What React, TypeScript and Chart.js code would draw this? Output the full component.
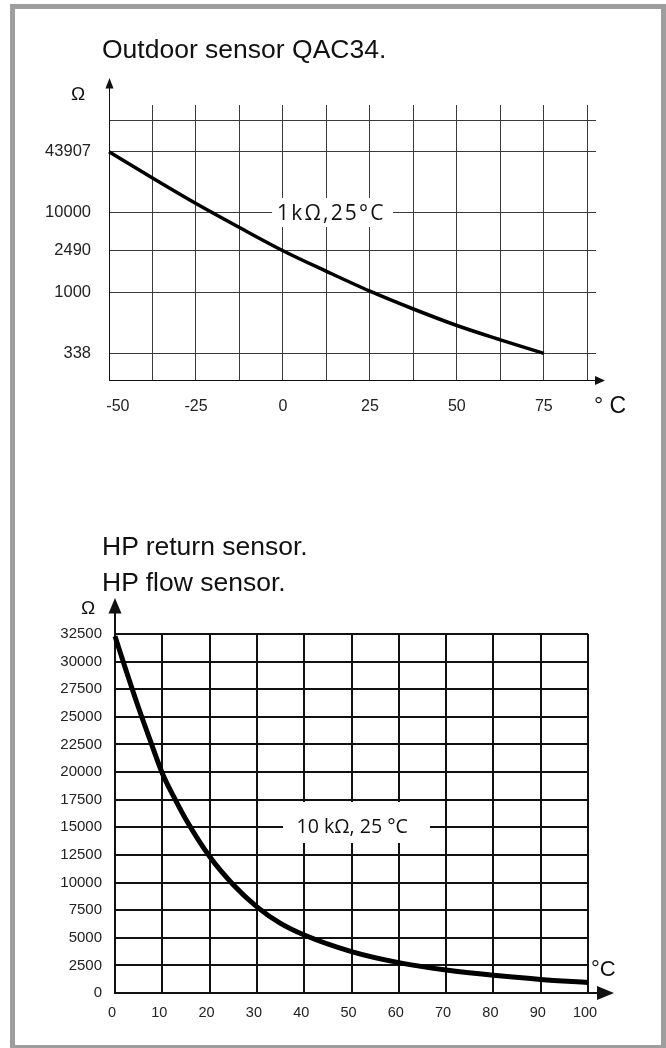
import React, { useEffect, useRef } from "react";
import { Chart, registerables } from "chart.js";

Chart.register(...registerables);

// ---------- Outdoor sensor QAC34 ----------
const outdoorTemps = [-50, -37.5, -25, -12.5, 0, 12.5, 25, 37.5, 50, 62.5, 75];
const outdoorOhms = [43907, 23210, 12500, 5820, 2490, 1588, 1030, 745, 555, 430, 338];
const outdoorTickOhms = [338, 1000, 2490, 10000, 43907];
const outdoorTickLabels = ["338", "1000", "2490", "10000", "43907"];
const outdoorXLabelValues = [-50, -25, 0, 25, 50, 75];
const outdoorXLabels = ["-50", "-25", "0", "25", "50", "75"];
const outdoorGridTemps = [-50, -37.5, -25, -12.5, 0, 12.5, 25, 37.5, 50, 62.5, 75, 87.5];

// ---------- HP return / flow sensor ----------
const hpTemps = [0, 2.5, 5, 7.5, 10, 12.5, 15, 20, 25, 30, 35, 40, 50, 60, 70, 80, 90, 100];
const hpOhms = [32300, 29000, 25800, 22800, 19900, 17700, 15700, 12350, 9800, 7800, 6300, 5250, 3750, 2750, 2080, 1600, 1230, 950];
const hpYTicks = [0, 2500, 5000, 7500, 10000, 12500, 15000, 17500, 20000, 22500, 25000, 27500, 30000, 32500];
const hpXTicks = [0, 10, 20, 30, 40, 50, 60, 70, 80, 90, 100];

// ---------- layout (schematic axis of the outdoor chart, in px above x-axis) ----------
const OUT_TICK_POS = [26.7, 87.5, 129.3, 167.3, 228.3];
const OUT_TOP_GRID = 259.7;
const OUT_Y_MAX = 275;

const FONT = '"Liberation Sans", Arial, sans-serif';
const LABEL_FONT = '"Open Sans", "Noto Sans", sans-serif';

function ohmToAxis(v: number): number {
  const t = outdoorTickOhms;
  const p = OUT_TICK_POS;
  for (let i = 0; i < t.length - 1; i++) {
    if (v <= t[i + 1] || i === t.length - 2) {
      const f = (Math.log10(v) - Math.log10(t[i])) / (Math.log10(t[i + 1]) - Math.log10(t[i]));
      return p[i] + f * (p[i + 1] - p[i]);
    }
  }
  return p[0];
}

function drawSpaced(ctx: CanvasRenderingContext2D, text: string, x0: number, x1: number, baseline: number, size: number) {
  ctx.font = `${size}px ${LABEL_FONT}`;
  const chars = Array.from(text);
  const widths = chars.map((c) => ctx.measureText(c).width);
  const W = widths.reduce((a, b) => a + b, 0);
  const gap = (x1 - x0 - W) / (chars.length - 1);
  let x = x0;
  ctx.textAlign = "left";
  ctx.textBaseline = "alphabetic";
  chars.forEach((c, i) => {
    ctx.fillText(c, x, baseline);
    x += widths[i] + gap;
  });
}

function fitText(ctx: CanvasRenderingContext2D, text: string, x0: number, width: number, baseline: number, base: number) {
  ctx.font = `${base}px ${LABEL_FONT}`;
  const m = ctx.measureText(text).width;
  const size = (base * width) / m;
  ctx.font = `${size}px ${LABEL_FONT}`;
  ctx.textAlign = "left";
  ctx.textBaseline = "alphabetic";
  ctx.fillText(text, x0, baseline);
}

function tri(ctx: CanvasRenderingContext2D, pts: number[][]) {
  ctx.beginPath();
  ctx.moveTo(pts[0][0], pts[0][1]);
  ctx.lineTo(pts[1][0], pts[1][1]);
  ctx.lineTo(pts[2][0], pts[2][1]);
  ctx.closePath();
  ctx.fill();
}

const topDecor = {
  id: "topDecor",
  afterDraw(chart: any) {
    const ctx: CanvasRenderingContext2D = chart.ctx;
    const { left, right, top, bottom } = chart.chartArea;
    ctx.save();
    ctx.fillStyle = "#111";
    ctx.strokeStyle = "#111";
    ctx.lineWidth = 1;
    // y arrow
    ctx.beginPath();
    ctx.moveTo(left + 0.5, top);
    ctx.lineTo(left + 0.5, 86);
    ctx.stroke();
    tri(ctx, [[left + 0.5, 78], [left - 3.5, 88.5], [left + 4.5, 88.5]]);
    // x arrow
    ctx.beginPath();
    ctx.moveTo(right - 1, bottom + 0.5);
    ctx.lineTo(597, bottom + 0.5);
    ctx.stroke();
    tri(ctx, [[605, bottom + 0.5], [595, bottom - 4], [595, bottom + 5]]);
    // units
    ctx.fillStyle = "#111";
    ctx.font = `19px ${FONT}`;
    ctx.textAlign = "center";
    ctx.textBaseline = "alphabetic";
    ctx.fillText("Ω", 78, 99.5);
    ctx.font = `23px ${FONT}`;
    ctx.textAlign = "left";
    ctx.fillText("° C", 594, 413);
    // annotation
    ctx.fillStyle = "#fff";
    ctx.fillRect(272, 198, 121, 29);
    ctx.fillStyle = "#111";
    drawSpaced(ctx, "1kΩ,25°C", 277, 383.5, 219.5, 21);
    ctx.restore();
  },
};

const OFF = 560;
const botDecor = {
  id: "botDecor",
  afterDraw(chart: any) {
    const ctx: CanvasRenderingContext2D = chart.ctx;
    const { left, right, top, bottom } = chart.chartArea;
    ctx.save();
    ctx.fillStyle = "#111";
    ctx.strokeStyle = "#111";
    ctx.lineWidth = 2;
    // y arrow
    ctx.beginPath();
    ctx.moveTo(left, top);
    ctx.lineTo(left, 612 - OFF);
    ctx.stroke();
    tri(ctx, [[left, 598 - OFF], [left - 6.5, 613.5 - OFF], [left + 6.5, 613.5 - OFF]]);
    // x arrow
    ctx.beginPath();
    ctx.moveTo(right - 1, bottom);
    ctx.lineTo(600, bottom);
    ctx.stroke();
    tri(ctx, [[614, bottom], [597, bottom - 7], [597, bottom + 7]]);
    // units
    ctx.font = `19px ${FONT}`;
    ctx.textAlign = "center";
    ctx.textBaseline = "alphabetic";
    ctx.fillText("Ω", 88, 613.5 - OFF);
    ctx.font = `22px ${FONT}`;
    ctx.textAlign = "left";
    ctx.fillText("°C", 591, 976 - OFF);
    // annotation
    ctx.fillStyle = "#fff";
    ctx.fillRect(283, 802 - OFF, 147, 41);
    ctx.fillStyle = "#111";
    fitText(ctx, "10 kΩ, 25 °C", 296.5, 111.5, 833 - OFF, 20);
    ctx.restore();
  },
};

export default function App() {
  const topRef = useRef<HTMLCanvasElement>(null);
  const botRef = useRef<HTMLCanvasElement>(null);

  useEffect(() => {
    const c1 = new Chart(topRef.current as HTMLCanvasElement, {
      type: "line",
      data: {
        datasets: [
          {
            data: outdoorTemps.map((t, i) => ({ x: t, y: ohmToAxis(outdoorOhms[i]) })),
            borderColor: "#000",
            borderWidth: 3.5,
            pointRadius: 0,
            cubicInterpolationMode: "monotone",
            fill: false,
            clip: false,
          } as any,
        ],
      },
      options: {
        responsive: false,
        animation: false,
        devicePixelRatio: 1,
        layout: { padding: { left: 0, top: 105, right: 70, bottom: 20 } },
        plugins: { legend: { display: false }, tooltip: { enabled: false } },
        scales: {
          x: {
            type: "linear",
            min: -50,
            max: 90,
            afterBuildTicks: (s: any) => {
              s.ticks = outdoorGridTemps.map((v) => ({ value: v }));
            },
            afterFit: (s: any) => {
              s.height = 40;
            },
            grid: { color: "#3a3a3a", lineWidth: 1, drawTicks: false },
            border: { display: true, color: "#111", width: 1 },
            ticks: {
              autoSkip: false,
              maxRotation: 0,
              padding: 17,
              color: "#222",
              font: { family: FONT, size: 16 },
              callback: (v: any) => {
                const i = outdoorXLabelValues.indexOf(Number(v));
                if (i < 0) return "";
                return i === 0 ? "    " + outdoorXLabels[i] : outdoorXLabels[i];
              },
            },
          },
          y: {
            type: "linear",
            min: 0,
            max: OUT_Y_MAX,
            afterBuildTicks: (s: any) => {
              s.ticks = [...OUT_TICK_POS, OUT_TOP_GRID].map((v) => ({ value: v }));
            },
            afterFit: (s: any) => {
              s.width = 109;
            },
            grid: { color: "#3a3a3a", lineWidth: 1, drawTicks: false },
            border: { display: true, color: "#111", width: 1 },
            ticks: {
              autoSkip: false,
              padding: 18,
              color: "#222",
              font: { family: FONT, size: 16.5 },
              callback: (_v: any, i: number) => (i < outdoorTickLabels.length ? outdoorTickLabels[i] : ""),
            },
          },
        },
      } as any,
      plugins: [topDecor],
    });

    const c2 = new Chart(botRef.current as HTMLCanvasElement, {
      type: "line",
      data: {
        datasets: [
          {
            data: hpTemps.map((t, i) => ({ x: t, y: hpOhms[i] })),
            borderColor: "#000",
            borderWidth: 5,
            pointRadius: 0,
            cubicInterpolationMode: "monotone",
            fill: false,
            clip: false,
          } as any,
        ],
      },
      options: {
        responsive: false,
        animation: false,
        devicePixelRatio: 1,
        layout: { padding: { left: 0, top: 74, right: 78, bottom: 12 } },
        plugins: { legend: { display: false }, tooltip: { enabled: false } },
        scales: {
          x: {
            type: "linear",
            min: 0,
            max: 100,
            afterBuildTicks: (s: any) => {
              s.ticks = hpXTicks.map((v) => ({ value: v }));
            },
            afterFit: (s: any) => {
              s.height = 35;
            },
            grid: { color: "#111", lineWidth: 2, drawTicks: false },
            border: { display: true, color: "#111", width: 2 },
            ticks: {
              autoSkip: false,
              maxRotation: 0,
              padding: 11,
              labelOffset: -3,
              color: "#222",
              font: { family: FONT, size: 14.5 },
              callback: (v: any) => String(v),
            },
          },
          y: {
            type: "linear",
            min: 0,
            max: 32500,
            afterBuildTicks: (s: any) => {
              s.ticks = hpYTicks.map((v) => ({ value: v }));
            },
            afterFit: (s: any) => {
              s.width = 115;
            },
            grid: { color: "#111", lineWidth: 2, drawTicks: false },
            border: { display: true, color: "#111", width: 2 },
            ticks: {
              autoSkip: false,
              padding: 13,
              color: "#222",
              font: { family: FONT, size: 15 },
              callback: (v: any) => String(v),
            },
          },
        },
      } as any,
      plugins: [botDecor],
    });

    return () => {
      c1.destroy();
      c2.destroy();
    };
  }, []);

  const title: React.CSSProperties = {
    position: "absolute",
    left: 102,
    fontFamily: FONT,
    fontSize: 26.5,
    lineHeight: "26.5px",
    color: "#111",
    whiteSpace: "nowrap",
  };

  return (
    <div style={{ position: "absolute", left: 0, top: 0, width: 666, height: 1048, overflow: "hidden", background: "#fff" }}>
      <div
        style={{
          position: "absolute",
          left: 10,
          top: 4,
          width: 656,
          height: 1046,
          border: "5px solid #9e9e9e",
          boxSizing: "border-box",
        }}
      />
      <canvas ref={topRef} width={666} height={440} style={{ position: "absolute", left: 0, top: 0, width: 666, height: 440 }} />
      <canvas ref={botRef} width={666} height={480} style={{ position: "absolute", left: 0, top: 560, width: 666, height: 480 }} />
      <div style={{ ...title, top: 36 }}>Outdoor sensor QAC34.</div>
      <div style={{ ...title, top: 533 }}>HP return sensor.</div>
      <div style={{ ...title, top: 569 }}>HP flow sensor.</div>
    </div>
  );
}
